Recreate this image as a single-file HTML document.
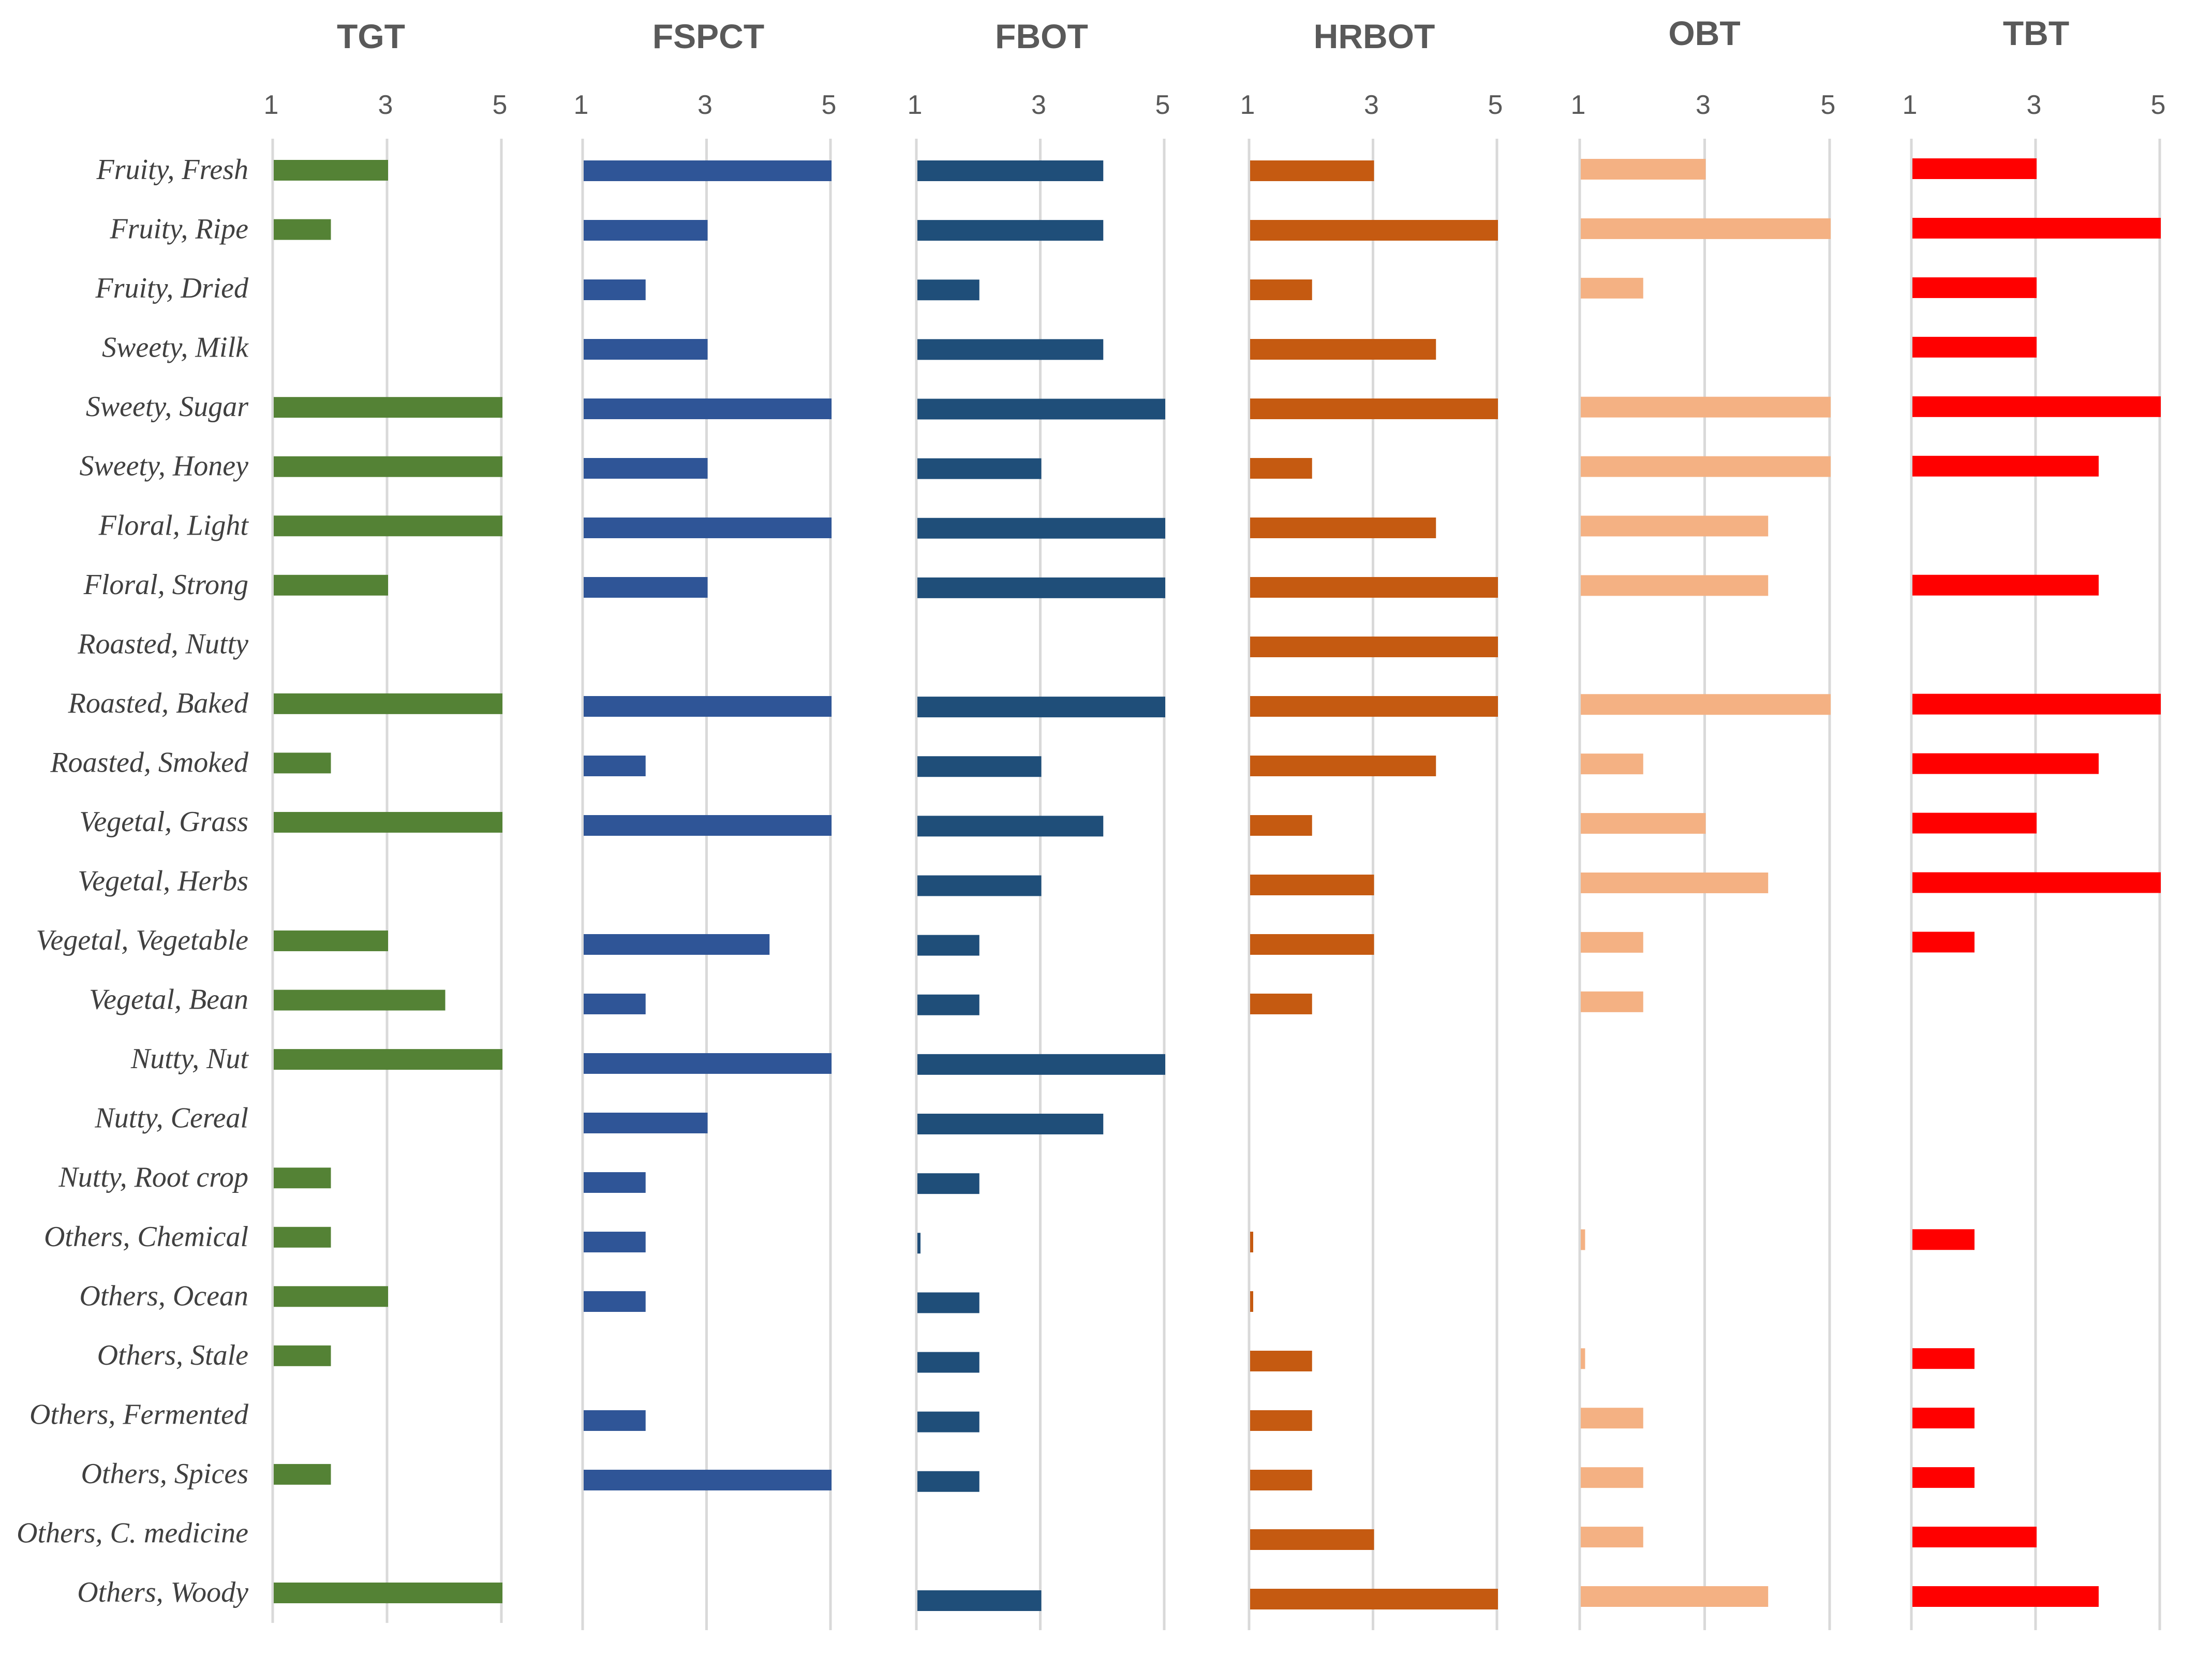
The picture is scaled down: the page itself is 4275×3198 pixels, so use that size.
<!DOCTYPE html>
<html><head><meta charset="utf-8"><style>
html,body{margin:0;padding:0;background:#fff;}
svg{display:block;}
</style></head><body>
<svg id="chart" xmlns="http://www.w3.org/2000/svg" width="4275" height="3198" viewBox="0 0 4275 3198">
<rect x="0" y="0" width="4275" height="3198" fill="#fff"/>
<g id="grid"></g><g id="bars"></g><g id="labels"></g>
</svg>
<script>
const categories = ["Fruity, Fresh","Fruity, Ripe","Fruity, Dried","Sweety, Milk","Sweety, Sugar","Sweety, Honey","Floral, Light","Floral, Strong","Roasted, Nutty","Roasted, Baked","Roasted, Smoked","Vegetal, Grass","Vegetal, Herbs","Vegetal, Vegetable","Vegetal, Bean","Nutty, Nut","Nutty, Cereal","Nutty, Root crop","Others, Chemical","Others, Ocean","Others, Stale","Others, Fermented","Others, Spices","Others, C. medicine","Others, Woody"];
const seriesNames = ["TGT","FSPCT","FBOT","HRBOT","OBT","TBT"];
const tgtValues   = [3,2,0,0,5,5,5,3,0,5,2,5,0,3,4,5,0,2,2,3,2,0,2,0,5];
const fspctValues = [5,3,2,3,5,3,5,3,0,5,2,5,0,4,2,5,3,2,2,2,0,2,5,0,0];
const fbotValues  = [4,4,2,4,5,3,5,5,0,5,3,4,3,2,2,5,4,2,1.05,2,2,2,2,0,3];
const hrbotValues = [3,5,2,4,5,2,4,5,5,5,4,2,3,3,2,0,0,0,1.05,1.05,2,2,2,3,5];
const obtValues   = [3,5,2,0,5,5,4,4,0,5,2,3,4,2,2,0,0,0,1.07,0,1.07,2,2,2,4];
const tbtValues   = [3,5,3,3,5,4,0,4,0,5,4,3,5,2,0,0,0,0,2,0,2,2,2,3,4];
const tickLabels = [1,3,5];

const NS="http://www.w3.org/2000/svg";
const panels = [
 {vals:tgtValues,  color:"#548235", x1:527,  x5:969,  yTop:329, yBot:3078, gBot:3136, titleX:717,  titleY:93},
 {vals:fspctValues,color:"#2F5597", x1:1126, x5:1605, yTop:330, yBot:3090, gBot:3150, titleX:1369, titleY:93},
 {vals:fbotValues, color:"#1F4E79", x1:1771, x5:2250, yTop:330, yBot:3093, gBot:3150, titleX:2013, titleY:93},
 {vals:hrbotValues,color:"#C55A11", x1:2414, x5:2893, yTop:330, yBot:3090, gBot:3150, titleX:2656, titleY:93},
 {vals:obtValues,  color:"#F4B183", x1:3053, x5:3536, yTop:327, yBot:3085, gBot:3150, titleX:3294, titleY:87},
 {vals:tbtValues,  color:"#FF0000", x1:3694, x5:4174, yTop:326, yBot:3085, gBot:3150, titleX:3935, titleY:87}
];
function mk(tag,attrs,parent){const e=document.createElementNS(NS,tag);for(const k in attrs)e.setAttribute(k,attrs[k]);parent.appendChild(e);return e;}
const gGrid=document.getElementById('grid'),gBars=document.getElementById('bars'),gLab=document.getElementById('labels');
panels.forEach((p,pi)=>{
  const xs=v=>p.x1+(v-1)*(p.x5-p.x1)/4;
  const ys=i=>p.yTop+i*(p.yBot-p.yTop)/(categories.length-1);
  tickLabels.forEach(t=>{
    const l=mk('line',{x1:xs(t),x2:xs(t),y1:268,y2:p.gBot,stroke:"#d9d9d9","stroke-width":5},gGrid);
    
    
    const tx=mk('text',{x:xs(t)-3,y:220,"text-anchor":"middle","font-family":"Liberation Sans Narrow, Liberation Sans, sans-serif","font-size":52,fill:"#595959"},gLab);
    tx.textContent=t;
    
    
  });
  const ti=mk('text',{x:p.titleX,y:p.titleY,"text-anchor":"middle","font-family":"Liberation Sans Narrow, Liberation Sans, sans-serif","font-weight":"bold","font-size":66,fill:"#595959"},gLab);
  ti.textContent=seriesNames[pi];
  
  
  p.vals.forEach((v,i)=>{
    if(!v)return;
    const r=mk('rect',{x:xs(1)+2,y:ys(i)-20,width:Math.max(xs(v)-xs(1),6),height:40,fill:p.color},gBars);
    
    
  });
});
const p0=panels[0];
categories.forEach((c,i)=>{
  const y=p0.yTop+i*(p0.yBot-p0.yTop)/(categories.length-1);
  const t=mk('text',{x:480,y:y+17,"text-anchor":"end","font-family":"Liberation Serif, serif","font-style":"italic","font-size":56,fill:"#404040"},gLab);
  t.textContent=c;
  
  
});
</script>
</body></html>
